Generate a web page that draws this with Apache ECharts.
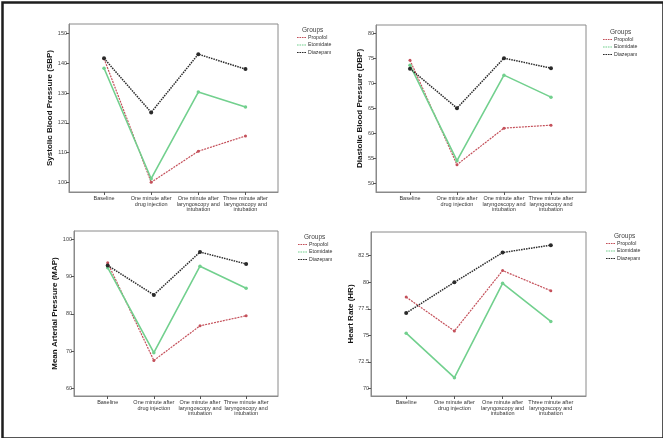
<!DOCTYPE html>
<html><head><meta charset="utf-8">
<script src="https://cdn.jsdelivr.net/npm/echarts@6/dist/echarts.min.js"></script>
<style>html,body{margin:0;padding:0;background:#fff}#c{width:663px;height:438px}</style>
</head><body><div id="c"></div>
<script>
const categories = ['Baseline', 'One minute after\ndrug injection', 'One minute after\nlaryngoscopy and\nintubation', 'Three minute after\nlaryngoscopy and\nintubation'];
const groups = ['Propofol', 'Etomidate', 'Diazepam'];

const sbpPropofol = [141.5, 100.1, 110.5, 115.6];
const sbpEtomidate = [138.3, 101.3, 130.3, 125.3];
const sbpDiazepam = [141.6, 123.5, 143.0, 138.0];

const dbpPropofol = [74.7, 53.8, 61.1, 61.7];
const dbpEtomidate = [73.7, 54.6, 71.7, 67.3];
const dbpDiazepam = [73.0, 65.1, 75.1, 73.1];

const mapPropofol = [93.7, 67.5, 76.8, 79.5];
const mapEtomidate = [92.4, 69.6, 92.8, 86.9];
const mapDiazepam = [93.0, 85.1, 96.6, 93.4];

const hrPropofol = [78.6, 75.4, 81.1, 79.2];
const hrEtomidate = [75.2, 71.0, 79.9, 76.3];
const hrDiazepam = [77.1, 80.0, 82.8, 83.5];

const sbpTicks = [100, 110, 120, 130, 140, 150];
const dbpTicks = [50, 55, 60, 65, 70, 75, 80];
const mapTicks = [60, 70, 80, 90, 100];
const hrTicks = [70, 72.5, 75, 77.5, 80, 82.5];

const yTitles = ['Systolic Blood Pressure (SBP)', 'Diastolic Blood Pressure (DBP)', 'Mean Arterial Pressure (MAP)', 'Heart Rate (HR)'];

const FONT = 'Liberation Sans, Arial, sans-serif';
const colors = { Propofol: '#c4505a', Etomidate: '#72d08e', Diazepam: '#2a2a2a' };

const panels = [
  { grid: { left: 69, top: 24, width: 209, height: 168 }, x: [0.257, 4.69], y: [96.85, 153.1], ticks: sbpTicks, data: [sbpPropofol, sbpEtomidate, sbpDiazepam], legend: [297, 35], groupsPos: [313, 27] },
  { grid: { left: 376, top: 25, width: 210, height: 167 }, x: [0.277, 4.745], y: [48.33, 81.73], ticks: dbpTicks, data: [dbpPropofol, dbpEtomidate, dbpDiazepam], legend: [603, 37], groupsPos: [621, 29] },
  { grid: { left: 74, top: 231, width: 204, height: 165 }, x: [0.27, 4.69], y: [57.96, 102.25], ticks: mapTicks, data: [mapPropofol, mapEtomidate, mapDiazepam], legend: [298, 242], groupsPos: [315, 234] },
  { grid: { left: 371, top: 232, width: 215, height: 164 }, x: [0.27, 4.73], y: [69.27, 84.74], ticks: hrTicks, data: [hrPropofol, hrEtomidate, hrDiazepam], legend: [606, 241], groupsPos: [625, 233] }
];

const lineStyles = {
  Propofol: { color: colors.Propofol, width: 1.2, type: [2, 1] },
  Etomidate: { color: colors.Etomidate, width: 1.6, type: 'solid' },
  Diazepam: { color: colors.Diazepam, width: 1.5, type: [1.5, 1] }
};
const symbolSizes = { Propofol: 3, Etomidate: 3.5, Diazepam: 4 };

const grid = [], xAxis = [], yAxis = [], series = [], legend = [], graphic = [];
panels.forEach((p, i) => {
  grid.push(Object.assign({ show: true, borderColor: '#8a8a8a', borderWidth: 1, backgroundColor: '#fff' }, p.grid));
  xAxis.push({
    type: 'value', gridIndex: i, min: p.x[0], max: p.x[1],
    splitLine: { show: false },
    axisLine: { show: true, lineStyle: { color: '#8a8a8a', width: 1 } },
    axisTick: { show: true, length: 3, customValues: [1, 2, 3, 4], lineStyle: { color: '#555' } },
    axisLabel: {
      customValues: [1, 2, 3, 4], margin: 4, fontSize: 5.5, lineHeight: 5.5, color: '#333', fontFamily: FONT,
      formatter: v => categories[Math.round(v) - 1] || ''
    }
  });
  yAxis.push({
    type: 'value', gridIndex: i, min: p.y[0], max: p.y[1],
    name: yTitles[i], nameLocation: 'middle', nameRotate: 90, nameGap: 12,
    nameTextStyle: { fontSize: 8, fontWeight: 'bold', color: '#111', fontFamily: FONT },
    splitLine: { show: false },
    axisLine: { show: true, lineStyle: { color: '#8a8a8a', width: 1 } },
    axisTick: { show: true, length: 3, customValues: p.ticks, lineStyle: { color: '#555' } },
    axisLabel: { customValues: p.ticks, margin: 2, fontSize: 5.5, color: '#444', fontFamily: FONT }
  });
  groups.forEach((g, k) => {
    series.push({
      name: g, type: 'line', xAxisIndex: i, yAxisIndex: i,
      data: p.data[k].map((v, j) => [j + 1, v]),
      symbol: 'circle', symbolSize: symbolSizes[g],
      itemStyle: { color: colors[g] },
      lineStyle: lineStyles[g],
      z: k === 2 ? 3 : 2
    });
  });
  legend.push({
    data: groups.map(g => ({ name: g, itemStyle: { color: colors[g] } })),
    orient: 'vertical', left: p.legend[0], top: p.legend[1],
    itemWidth: 9, itemHeight: 2, itemGap: 2.5, padding: 0,
    icon: 'path://M0,0h2v1h-2z M3,0h2v1h-2z M6,0h2v1h-2z M9,0h2v1h-2z',
    textStyle: { fontSize: 5.2, color: '#333', fontFamily: FONT, padding: [0, 0, 0, -3] },
    selectedMode: false
  });
  graphic.push({
    type: 'text', left: p.groupsPos[0] - 11, top: p.groupsPos[1],
    style: { text: 'Groups', font: '6.5px ' + FONT, fill: '#444' }
  });
});
graphic.push({ type: 'rect', left: 0, top: 0, shape: { x: 0, y: 0, width: 661, height: 436 }, style: { fill: 'none', stroke: '#1e1e1e', lineWidth: 2.5 }, silent: true, position: [1, 1] });

const chart = echarts.init(document.getElementById('c'), null, { renderer: 'canvas' });
chart.setOption({ animation: false, backgroundColor: '#fff', grid, xAxis, yAxis, series, legend, graphic });
</script>
</body></html>
